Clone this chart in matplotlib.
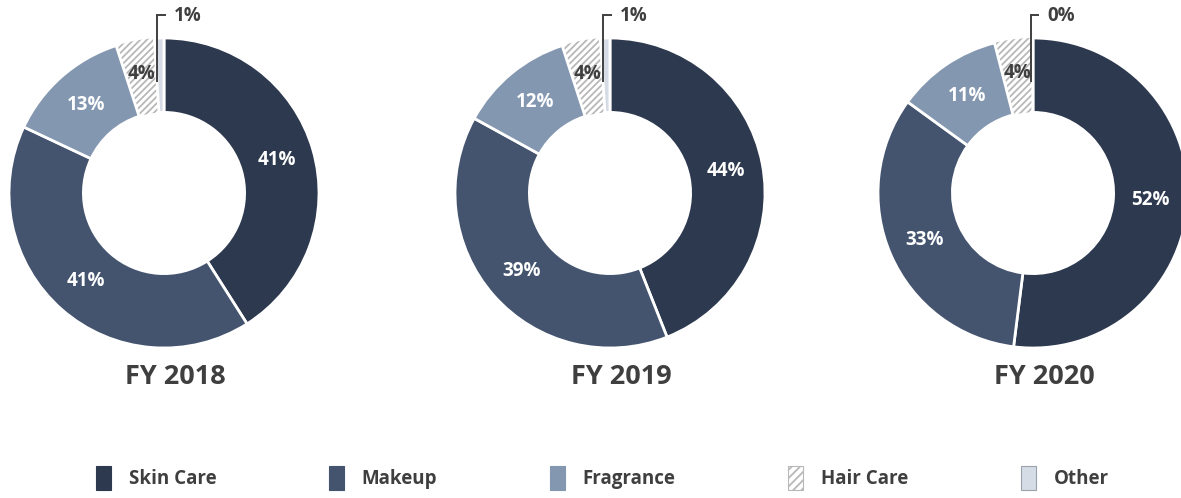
import numpy as np
import matplotlib.pyplot as plt
from matplotlib.patches import Patch

plt.rcParams['font.family'] = ['Open Sans', 'DejaVu Sans']
plt.rcParams['hatch.linewidth'] = 1.3

categories = ['Skin Care', 'Makeup', 'Fragrance', 'Hair Care', 'Other']
years = ['FY 2018', 'FY 2019', 'FY 2020']
fy2018 = [41, 41, 13, 4, 1]
fy2019 = [44, 39, 12, 4, 1]
fy2020 = [52, 33, 11, 4, 0]
shares = [fy2018, fy2019, fy2020]

colors = ['#2d394e', '#44546f', '#8497b0', 'white', '#d6dce5']
label_colors = ['white', 'white', 'white', '#3f3f3f', '#3f3f3f']
hatch_col = '#b8b8b8'
dark = '#3f3f3f'

W, H = 1181, 498
fig = plt.figure(figsize=(W / 100, H / 100), dpi=100)

centers_x = [164, 610, 1033]
cy = H - 193
R = 155  # outer radius in px
span = 1.25
size = 2 * span * R

for cx, vals, yr in zip(centers_x, shares, years):
    ax = fig.add_axes([(cx - size / 2) / W, (cy - size / 2) / H, size / W, size / H])
    ax.set_xlim(-span, span)
    ax.set_ylim(-span, span)
    ax.set_aspect('equal')
    ax.axis('off')
    wedges, _ = ax.pie(vals, colors=colors, startangle=90, counterclock=False,
                       radius=1, wedgeprops=dict(width=0.48, edgecolor='white', linewidth=2))
    for w in wedges:
        w.set_clip_on(False)
    # hair care is hatched
    hw = wedges[3]
    hw.set_hatch('/////')
    hw.set_edgecolor(hatch_col)
    hw.set_linewidth(0)
    hw.set_zorder(0.5)

    total = float(sum(vals))
    cum = 0.0
    for i, v in enumerate(vals):
        mid = 90 - 360 * (cum + v / 2) / total
        cum += v
        t = np.deg2rad(mid)
        if i < 4:
            r = 0.76 if i < 3 else 0.78
            ax.text(r * np.cos(t), r * np.sin(t), f'{v}%', ha='center', va='center',
                    fontsize=13.5, fontweight='bold', color=label_colors[i])
        else:
            # leader line for "Other"
            x0 = 0.9 * np.cos(t) - 0.015
            ax.plot([x0, x0, x0 + 0.05], [0.72, 1.15, 1.15], color=dark, lw=1.4,
                    solid_joinstyle='miter', clip_on=False)
            ax.text(x0 + 0.11, 1.14, f'{v}%', ha='left', va='center',
                    fontsize=13.5, fontweight='bold', color=dark, clip_on=False)
    ax.text(0.075, -1.19, yr, ha='center', va='center', fontsize=19.5,
            fontweight='bold', color=dark)

handles = []
for c, name in zip(colors, categories):
    if name == 'Hair Care':
        handles.append(Patch(facecolor='white', edgecolor=hatch_col, hatch='////', lw=0.8, label=name))
    else:
        handles.append(Patch(facecolor=c, edgecolor='#9aa3ad' if name == 'Other' else c, lw=0.8, label=name))

leg = fig.legend(handles=handles, loc='center', bbox_to_anchor=(0.51, 0.04), ncol=5,
                 frameon=False, handlelength=0.8, handleheight=1.55, handletextpad=0.95,
                 columnspacing=6.0, prop=dict(size=13.5, weight='bold'))
for t in leg.get_texts():
    t.set_color(dark)

fig.savefig('out.png', dpi=100)
